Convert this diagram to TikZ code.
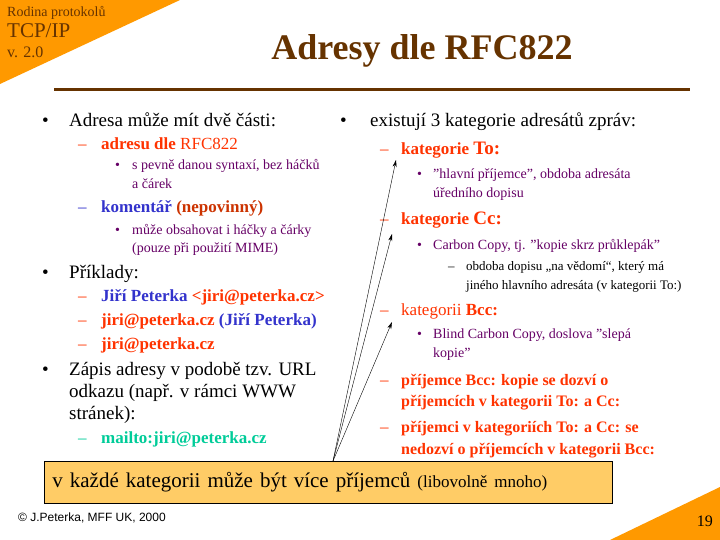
\documentclass[tikz,border=0pt]{standalone}
\usepackage{fontspec}
\setmainfont{Liberation Serif}
\setsansfont{Liberation Sans}
\usetikzlibrary{arrows.meta}
\definecolor{org}{HTML}{FF9900}
\definecolor{brn}{HTML}{663300}
\definecolor{rd}{HTML}{FF3300}
\definecolor{bl}{HTML}{3333CC}
\definecolor{pu}{HTML}{660066}
\definecolor{tl}{HTML}{00CC99}
\definecolor{nb}{HTML}{CC3300}
\definecolor{bx}{HTML}{FFCC66}
\begin{document}
\begin{tikzpicture}[x=1pt,y=-1pt,
  t/.style={anchor=base west,inner sep=0pt},
  big/.style={t,font=\fontsize{19}{20}\selectfont},
  mid/.style={t,font=\fontsize{17}{18}\selectfont},
  sml/.style={t,font=\fontsize{14}{15}\selectfont,text=pu},
  arr/.style={-{Stealth[length=7pt,width=4pt]},thin}]
\useasboundingbox (0,0) rectangle (720,540);
\fill[white] (0,0) rectangle (720,540);
\fill[org] (0,0) -- (180,0) -- (0,84) -- cycle;
\fill[org] (610,540) -- (720,540) -- (720,487) -- cycle;
\node[t,text=brn,font=\fontsize{14}{14}\selectfont] (h1) at (7,17) {Rodina protokolů};
\node[t,text=brn,font=\fontsize{21}{21}\selectfont] (h2) at (7,38) {TCP/IP};
\node[t,text=brn,font=\fontsize{16}{16}\selectfont] (h3) at (7,58) {v. 2.0};
\node[anchor=base,inner sep=0pt,text=brn,font=\bfseries\fontsize{36}{36}\selectfont] (title) at (422,60) {Adresy dle RFC822};
\draw[brn,line width=3pt] (54,90) -- (690,90);
% left
\node[big] (b1) at (42,127) {•}; \node[big] (l1) at (69,127) {Adresa může mít dvě části:};
\node[mid,text=rd] (d1) at (78,150) {–}; \node[mid,text=rd] (l2) at (101,150) {\textbf{adresu dle} RFC822};
\node[sml] (s1) at (115,170) {•}; \node[sml] (l3) at (132,170) {s pevně danou syntaxí, bez háčků};
\node[sml] (l4) at (132,189) {a čárek};
\node[mid,text=bl] (d2) at (78,213) {–}; \node[mid] (l5) at (101,213) {\textcolor{bl}{\textbf{komentář}} \textcolor{nb}{\textbf{(nepovinný)}}};
\node[sml] (s2) at (115,235) {•}; \node[sml] (l6) at (132,235) {může obsahovat i háčky a čárky};
\node[sml] (l7) at (132,252) {(pouze při použití MIME)};
\node[big] (b2) at (42,278) {•}; \node[big] (l8) at (69,278) {Příklady:};
\node[mid,text=rd] (d3) at (78,301) {–}; \node[mid] (l9) at (101,301) {\bfseries\textcolor{bl}{Jiří Peterka} \textcolor{rd}{<jiri@peterka.cz>}};
\node[mid,text=rd] (d4) at (78,325) {–}; \node[mid] (l10) at (101,325) {\bfseries\textcolor{rd}{jiri@peterka.cz} \textcolor{bl}{(Jiří Peterka)}};
\node[mid,text=rd] (d5) at (78,349) {–}; \node[mid,text=rd] (l11) at (101,349) {\bfseries jiri@peterka.cz};
\node[big] (b3) at (42,375) {•}; \node[big] (l12) at (69,375) {Zápis adresy v podobě tzv. URL};
\node[big] (l13) at (69,397) {odkazu (např. v rámci WWW};
\node[big] (l14) at (69,419) {stránek):};
\node[mid,text=tl] (d6) at (78,443) {–}; \node[mid,text=tl] (l15) at (101,443) {\bfseries mailto:jiri@peterka.cz};
% right
\node[big] (b4) at (340,127) {•}; \node[big] (r1) at (370,127) {existují 3 kategorie adresátů zpráv:};
\node[mid,text=rd] (e1) at (380,155) {–}; \node[mid,text=rd,font=\bfseries\fontsize{17}{18}\selectfont] (r2) at (401,155) {kategorie {\fontsize{19}{20}\selectfont To:}};
\node[sml] (s3) at (417,179) {•}; \node[sml] (r3) at (433,179) {"hlavní příjemce", obdoba adresáta};
\node[sml] (r4) at (433,198) {úředního dopisu};
\node[mid,text=rd] (e2) at (380,225) {–}; \node[mid,text=rd,font=\bfseries\fontsize{17}{18}\selectfont] (r5) at (401,225) {kategorie {\fontsize{19}{20}\selectfont Cc:}};
\node[sml] (s4) at (417,249) {•}; \node[sml] (r6) at (433,249) {Carbon Copy, tj. "kopie skrz průklepák"};
\node[t,font=\fontsize{13}{14}\selectfont] (e3) at (448,270) {–}; \node[t,font=\fontsize{13}{14}\selectfont] (r7) at (466,270) {obdoba dopisu „na vědomí“, který má};
\node[t,font=\fontsize{13}{14}\selectfont] (r8) at (466,289) {jiného hlavního adresáta (v kategorii To:)};
\node[mid,text=rd] (e4) at (380,315) {–}; \node[mid,text=rd,font=\bfseries\fontsize{17}{18}\selectfont] (r9) at (401,315) {\mdseries kategorii \bfseries Bcc:};
\node[sml] (s5) at (417,338) {•}; \node[sml] (r10) at (433,338) {Blind Carbon Copy, doslova "slepá};
\node[sml] (r11) at (433,357) {kopie"};
\node[mid,text=rd] (e5) at (380,385) {–}; \node[mid,text=rd,font=\bfseries\fontsize{16}{18}\selectfont] (r12) at (401,385) {příjemce Bcc: kopie se dozví o};
\node[mid,text=rd,font=\bfseries\fontsize{16}{18}\selectfont] (r13) at (401,406) {příjemcích v kategorii To: a Cc:};
\node[mid,text=rd] (e6) at (380,432) {–}; \node[mid,text=rd,font=\bfseries\fontsize{16}{18}\selectfont] (r14) at (401,432) {příjemci v kategoriích To: a Cc: se};
\node[mid,text=rd,font=\bfseries\fontsize{16}{18}\selectfont] (r15) at (401,454) {nedozví o příjemcích v kategorii Bcc:};
% box
\node[draw,fill=bx,thick,anchor=north west,minimum width=568pt,minimum height=42pt,inner sep=0pt,text width=560pt,align=left,font=\fontsize{21}{22}\selectfont] (box) at (44,461) {\hspace{4pt}v každé kategorii může být více příjemců {\fontsize{17}{18}\selectfont(libovolně mnoho)}};
\coordinate (src) at (333,461);
\coordinate (aTo) at (396,160);
\coordinate (aCc) at (392,234);
\coordinate (aBcc) at (392,322);
\draw[arr] (src) -- (aTo);
\draw[arr] (src) -- (aCc);
\draw[arr] (src) -- (aBcc);
\node[t,font=\sffamily\fontsize{12}{12}\selectfont] (foot) at (18,521) {© J.Peterka, MFF UK, 2000};
\node[anchor=base east,inner sep=0pt,font=\fontsize{16}{16}\selectfont] (pg) at (713,526) {19};
\end{tikzpicture}
\end{document}
